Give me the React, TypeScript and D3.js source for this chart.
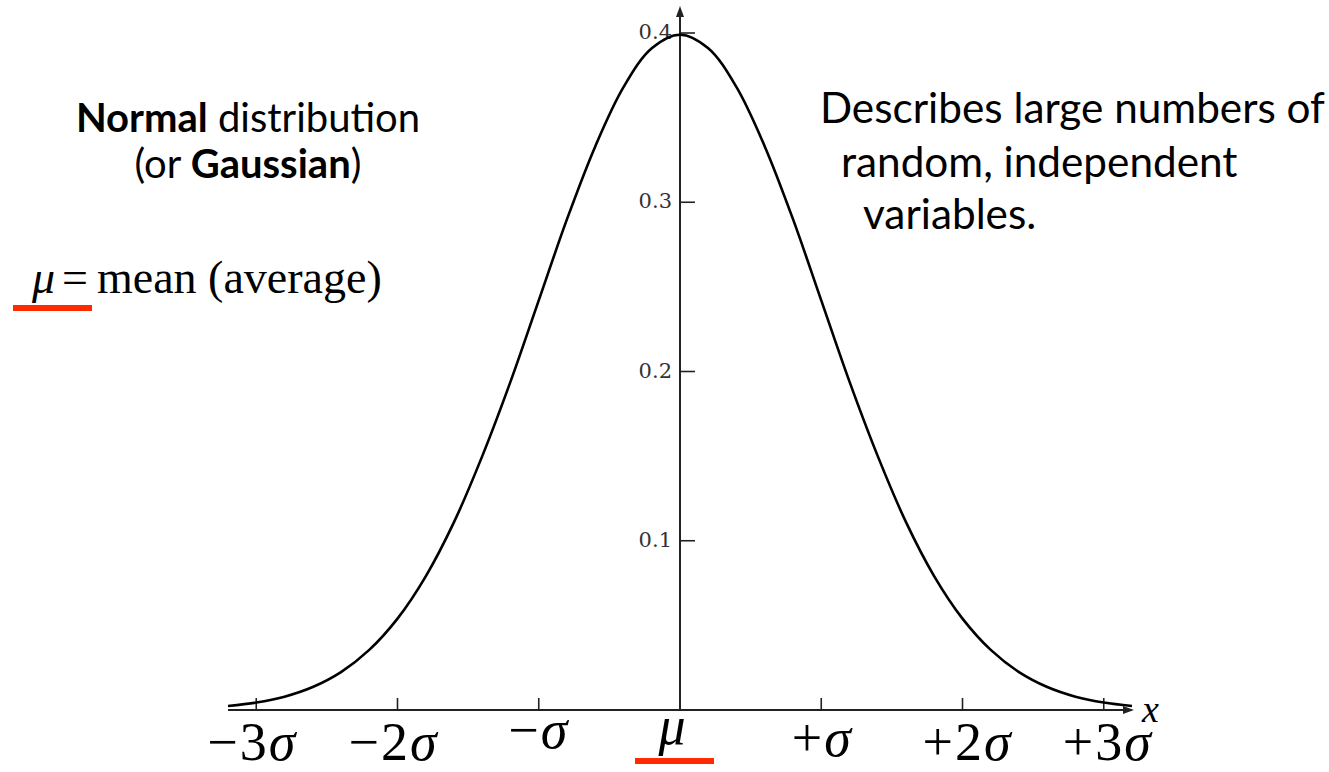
import React from "react";
import * as d3 from "d3";

// ---- data ----
const curveX = [-3.2, -3.0, -2.8, -2.6, -2.4, -2.2, -2.0, -1.8, -1.6, -1.4, -1.2, -1.0, -0.8, -0.6, -0.4, -0.2, 0,
  0.2, 0.4, 0.6, 0.8, 1.0, 1.2, 1.4, 1.6, 1.8, 2.0, 2.2, 2.4, 2.6, 2.8, 3.0, 3.2];
const curveY = [0.0024, 0.0044, 0.0079, 0.0136, 0.0224, 0.0355, 0.054, 0.079, 0.111, 0.150, 0.194, 0.242, 0.290, 0.333, 0.368, 0.391, 0.399,
  0.391, 0.368, 0.333, 0.290, 0.242, 0.194, 0.150, 0.111, 0.079, 0.054, 0.0355, 0.0224, 0.0136, 0.0079, 0.0044, 0.0024];
const xTickValues = [-3, -2, -1, 0, 1, 2, 3];
const xTickPrefix = ["−3", "−2", "−", "", "+", "+2", "+3"];
const xTickSymbol = ["σ", "σ", "σ", "μ", "σ", "σ", "σ"];
const yTickValues = [0.1, 0.2, 0.3, 0.4];
const yTickLabels = ["0.1", "0.2", "0.3", "0.4"];

const W = 1329;
const H = 772;

export default function App() {
  const x = d3.scaleLinear().domain([-3.2, 3.2]).range([228, 1132]);
  const y = d3.scaleLinear().domain([0, 0.4]).range([710, 33]);
  const pts: [number, number][] = curveX.map((v, i) => [v, curveY[i]]);
  const line = d3.line<[number, number]>().x(d => x(d[0])).y(d => y(d[1])).curve(d3.curveCatmullRom);
  const x0 = x(0);
  const yBase = y(0);
  const labelBaselines = [760, 760, 748, 744, 756, 760, 760];
  const labelOffsets = [-4, -4, 0, -7, 1, 5, 4];
  const serif = "'Liberation Serif', 'Times New Roman', serif";
  const sans = "Lato, 'Open Sans', sans-serif";
  const red = "#ff2a00";

  return (
    <svg width={W} height={H} style={{ position: "absolute", left: 0, top: 0, background: "#fff" }}>
      <rect x={0} y={0} width={W} height={H} fill="#fff" />
      {/* x axis */}
      <line x1={x(-3.2)} x2={x(3.2) - 2} y1={yBase} y2={yBase} stroke="#222" strokeWidth={2} />
      <path d={`M${x(3.2) + 2},${yBase} l-11,-4 l0,8 z`} fill="#222" />
      {/* y axis */}
      <line x1={x0} x2={x0} y1={yBase} y2={12} stroke="#222" strokeWidth={2} />
      <path d={`M${x0},6 l-4,11 l8,0 z`} fill="#222" />
      {/* x ticks */}
      {xTickValues.filter(v => v !== 0).map(v => (
        <line key={v} x1={x(v)} x2={x(v)} y1={yBase} y2={yBase - 12} stroke="#222" strokeWidth={1.6} />
      ))}
      {/* y ticks */}
      {yTickValues.map((v, i) => (
        <g key={v}>
          <line x1={x0} x2={x0 + 15} y1={y(v)} y2={y(v)} stroke="#222" strokeWidth={1.6} />
          <text x={x0 - 8} y={y(v) + 6} textAnchor="end" fontFamily="'DejaVu Serif', serif" fontSize={21} fill="#333">
            {yTickLabels[i]}
          </text>
        </g>
      ))}
      {/* curve */}
      <path d={line(pts) || ""} fill="none" stroke="#000" strokeWidth={2.6} />
      {/* x axis label */}
      <text x={1142} y={722} fontFamily={serif} fontStyle="italic" fontSize={38} fill="#000">x</text>
      {/* sigma labels */}
      {xTickValues.map((v, i) => (
        <text key={v} x={x(v) + labelOffsets[i]} y={labelBaselines[i]} textAnchor="middle" fontFamily={serif} fontSize={54} letterSpacing={2} fill="#000">
          <tspan>{xTickPrefix[i]}</tspan>
          <tspan fontStyle="italic">{xTickSymbol[i]}</tspan>
        </text>
      ))}
      <rect x={x0 - 45} y={758} width={79} height={6} fill={red} />
      {/* left annotation */}
      <text x={248} y={132} textAnchor="middle" fontFamily={sans} fontSize={40} fill="#000">
        <tspan fontWeight="bold">Normal</tspan> distribution
      </text>
      <text x={248} y={178} textAnchor="middle" fontFamily={sans} fontSize={40} fill="#000">
        (or <tspan fontWeight="bold">Gaussian</tspan>)
      </text>
      <text y={293} fontFamily={serif} fontSize={46} fill="#000">
        <tspan x={32} fontStyle="italic">μ</tspan>
        <tspan x={62}>=</tspan>
        <tspan x={97}>mean (average)</tspan>
      </text>
      <rect x={13} y={305} width={79} height={6} fill={red} />
      {/* right annotation */}
      <text fontFamily={sans} fontSize={42.3} fill="#000">
        <tspan x={820} y={123}>Describes large numbers of</tspan>
        <tspan x={841} y={177}>random, independent</tspan>
        <tspan x={863} y={229}>variables.</tspan>
      </text>
    </svg>
  );
}
